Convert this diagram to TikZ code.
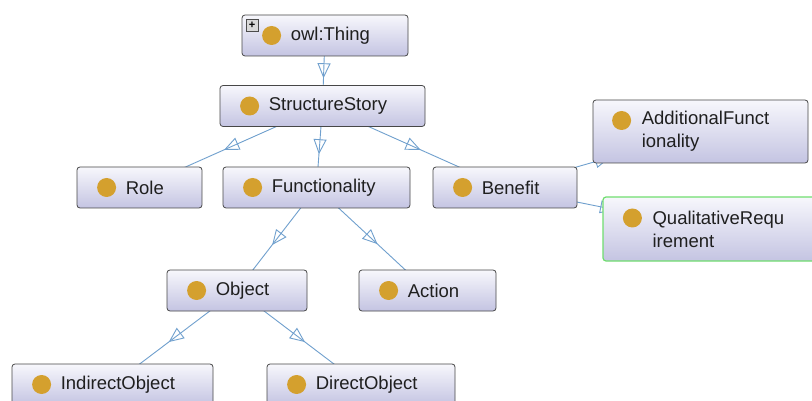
\documentclass[tikz,border=0pt]{standalone}
\usepackage{fontspec}
\setmainfont{Liberation Sans}
\usetikzlibrary{arrows.meta,decorations.markings,backgrounds}

\definecolor{boxtop}{RGB}{247,247,252}
\definecolor{boxbot}{RGB}{196,196,226}
\definecolor{dotgold}{RGB}{212,160,46}
\definecolor{isablue}{RGB}{112,160,206}
\definecolor{defgreen}{RGB}{112,222,112}

\begin{document}
\begin{tikzpicture}[
  x=1pt,
  y=-1pt,
  font=\fontsize{18.5}{23}\selectfont,
  cls/.style={draw=black!72, line width=0.8pt, rounded corners=3pt,
    top color=boxtop, bottom color=boxbot, minimum height=41, inner sep=0pt},
  dot/.style={circle, fill=dotgold, minimum size=19, inner sep=0pt},
  lbl/.style={anchor=west, align=left, inner sep=0pt, text=black!88},
  isa/.style={isablue, line width=0.9pt, postaction={decorate},
    decoration={markings, mark=at position 0.5 with
      {\arrow[xshift=7.5pt]{Triangle[open, length=15pt, width=13pt]}}}}
]
\useasboundingbox (0,0) rectangle (812,401);
\clip (0,0) rectangle (812,401);

% one-line classes: name/x/y/width/label
\foreach \n/\cx/\cy/\w/\t in {
  thing/325/35.5/166/owl:Thing,
  ss/322.5/106/205/StructureStory,
  role/139.5/187.5/125/Role,
  func/316.5/187.5/187/Functionality,
  benefit/505/187.5/144/Benefit,
  object/237/290.5/140/Object,
  action/427.5/290.5/137/Action,
  indirect/112.5/384.5/201/IndirectObject,
  direct/361/384.5/188/DirectObject} {
  \node[cls, minimum width=\w] (\n) at (\cx,\cy) {};
  \node[dot] (\n-dot) at ([xshift=30]\n.west) {};
  \node[lbl] (\n-txt) at ([xshift=49]\n.west) {\t};
}

% two-line classes
\node[cls, minimum width=215, minimum height=63] (af) at (700.5,131.5) {};
\node[dot] (af-dot) at ([xshift=29,yshift=11]af.west) {};
\node[lbl] (af-txt) at ([xshift=49]af.west) {AdditionalFunct\\ionality};

\node[cls, draw=defgreen, line width=1.2pt, minimum width=215, minimum height=64] (qr) at (710.5,229) {};
\node[dot] (qr-dot) at ([xshift=30,yshift=11]qr.west) {};
\node[lbl] (qr-txt) at ([xshift=50]qr.west) {QualitativeRequ\\irement};

% expand button
\node[draw=black!70, fill=black!15, minimum size=12, inner sep=0pt,
  font=\fontsize{11}{11}\selectfont\bfseries] (thing-plus) at (252,25) {+};

% subclass edges
\begin{scope}[on background layer]
\fill[white] (0,0) rectangle (812,401);
\foreach \a/\b in {thing/ss, ss/role, ss/func, ss/benefit, benefit/af, benefit/qr,
  func/object, func/action, object/indirect, object/direct}
  \draw[isa] (\a.center) -- (\b.center);
\end{scope}
\end{tikzpicture}
\end{document}
